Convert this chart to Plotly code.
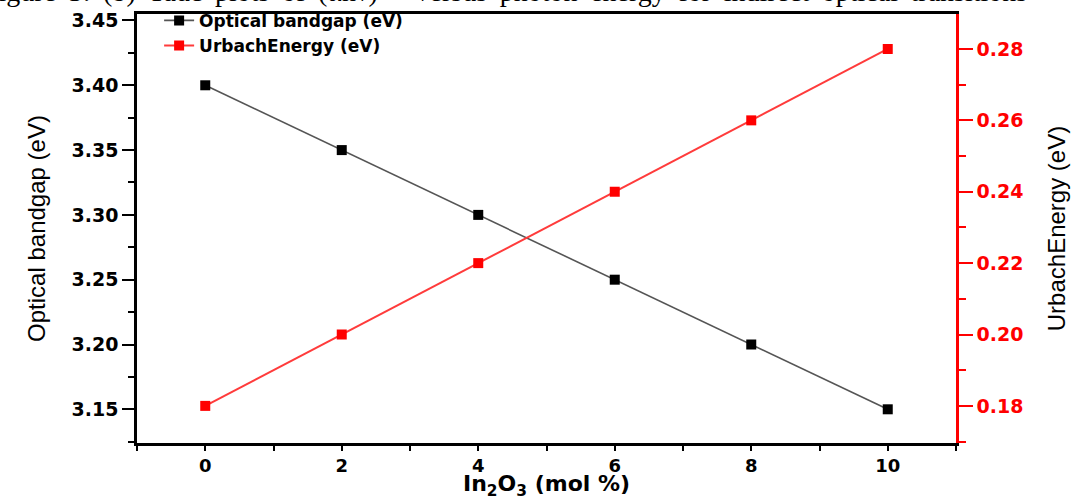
import plotly.graph_objects as go

# In2O3 content of the samples (mol %)
in2o3_mol = [0, 2, 4, 6, 8, 10]
# Optical band gap (eV) and Urbach energy (eV) for each composition
band_gap = [3.40, 3.35, 3.30, 3.25, 3.20, 3.15]
urbach_energy = [0.18, 0.20, 0.22, 0.24, 0.26, 0.28]

RED = "#ff0000"
tick_font = dict(family="DejaVu Sans", size=19, color="black", weight="bold")

fig = go.Figure()

fig.add_trace(go.Scatter(
    x=in2o3_mol, y=band_gap, name="Optical bandgap (eV)",
    mode="lines+markers",
    line=dict(color="#555555", width=1.6),
    marker=dict(symbol="square", size=10, color="black"),
    yaxis="y",
))
fig.add_trace(go.Scatter(
    x=in2o3_mol, y=urbach_energy, name="UrbachEnergy (eV)",
    mode="lines+markers",
    line=dict(color="#ff3b3b", width=2),
    marker=dict(symbol="square", size=10, color=RED),
    yaxis="y2",
))

fig.update_layout(
    width=1079, height=500,
    margin=dict(l=137, r=123, t=14, b=57, autoexpand=False),
    paper_bgcolor="white", plot_bgcolor="white",
    showlegend=True,
    legend=dict(
        x=0.027, y=1.026, xanchor="left", yanchor="top",
        bgcolor="rgba(0,0,0,0)",
        font=dict(family="DejaVu Sans", size=17, color="black", weight="bold"),
        tracegroupgap=0, itemwidth=30,
    ),
    xaxis=dict(
        range=[-1, 11], dtick=2, tick0=0,
        showgrid=False, zeroline=False,
        showline=True, linecolor="black", linewidth=2.5, mirror=True,
        ticks="outside", ticklen=5, tickwidth=1.5, tickcolor="black",
        minor=dict(dtick=1, ticks="outside", ticklen=5, tickwidth=1.5, tickcolor="black"),
        tickfont=dict(family="DejaVu Sans", size=18, color="black", weight="bold"),
    ),
    yaxis=dict(
        range=[3.124, 3.455], dtick=0.05, tick0=3.15, tickformat=".2f",
        showgrid=False, zeroline=False,
        showline=True, linecolor="black", linewidth=2.5,
        ticks="outside", ticklen=12, tickwidth=1.5, tickcolor="black",
        minor=dict(dtick=0.025, ticks="outside", ticklen=6, tickwidth=1.5, tickcolor="black"),
        tickfont=tick_font,
        title=dict(text="Optical bandgap (eV)",
                   font=dict(family="Liberation Sans", size=24, color="black"),
                   standoff=20),
    ),
    yaxis2=dict(
        overlaying="y", side="right",
        range=[0.1696, 0.2898], dtick=0.02, tick0=0.18, tickformat=".2f",
        showgrid=False, zeroline=False,
        showline=True, linecolor=RED, linewidth=2.5,
        ticks="outside", ticklen=14, tickwidth=1.5, tickcolor=RED,
        minor=dict(dtick=0.01, ticks="outside", ticklen=7, tickwidth=1.5, tickcolor=RED),
        tickfont=dict(family="DejaVu Sans", size=19, color=RED, weight="bold"),
        title=dict(text="UrbachEnergy (eV)",
                   font=dict(family="Liberation Sans", size=24, color="black"),
                   standoff=26),
    ),
)

# x-axis title placed under the tick labels
fig.add_annotation(
    text="In<sub>2</sub>O<sub>3</sub> (mol %)",
    xref="paper", yref="paper", x=0.5, y=-0.1,
    xanchor="center", yanchor="middle", showarrow=False,
    font=dict(family="DejaVu Sans", size=22, color="black", weight="bold"),
)

# Figure caption running along the top edge of the page (justified spacing)
caption_words = ["Figure", "3:", "(b)", "Tauc", "plots", "of", "(αhν)<sup>1/2</sup>",
                 "versus", "photon", "energy", "for", "indirect", "optical", "transitions"]
fig.add_annotation(
    text=" \u2009".join(caption_words),
    xref="paper", yref="paper", x=-0.19, y=1.058,
    xanchor="left", yanchor="middle", showarrow=False,
    font=dict(family="Liberation Serif", size=28, color="black"),
)

fig.write_html("out.html")
